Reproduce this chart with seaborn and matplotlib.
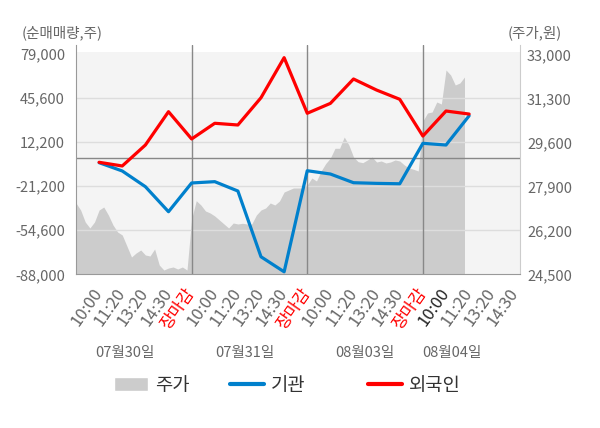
import matplotlib
matplotlib.use('Agg')
import matplotlib.pyplot as plt
import seaborn as sns
import pandas as pd
from matplotlib.patches import Patch
from matplotlib.lines import Line2D

sns.set_style('white')
plt.rcParams['font.family'] = ['Noto Sans CJK KR', 'DejaVu Sans']

# data
days = ['07월30일', '07월31일', '08월03일', '08월04일']
tick_labels = ['10:00', '11:20', '13:20', '14:30', '장마감'] * 3 + ['10:00', '11:20', '13:20', '14:30']
inst = [-3300, -9600, -21500, -40500, -18700, -17700, -24800, -74700, -86100,
        -9400, -11900, -18500, -19000, -19300, 11400, 10100, 32300]
foreign = [-3000, -5800, 10100, 35400, 14700, 26600, 25300, 46000, 76400,
           34200, 41700, 60200, 51800, 44800, 16900, 35900, 33600]
# intraday price, sampled evenly through each session
price_d1 = [27255, 26985, 26521, 26289, 26521, 26985, 27100, 26791, 26405, 26134,
            26019, 25594, 25168, 25323, 25439, 25246, 25207, 25478, 24859, 24666,
            24743, 24782, 24705, 24782, 24666]
price_d2 = [26637, 27344, 27178, 26946, 26869, 26753, 26598, 26444, 26289, 26482,
            26444, 26471, 26444, 26444, 26791, 26985, 27062, 27255, 27178, 27332,
            27680, 27757, 27835, 27835, 27835]
price_d3 = [27951, 28221, 28105, 28492, 28781, 28994, 29369, 29369, 29805, 29496,
            29032, 28851, 28812, 28917, 29032, 28839, 28878, 28801, 28839, 28917,
            28878, 28723, 28607, 28557, 28492]
price_d4 = [30424, 30733, 30771, 31158, 31080, 32394, 32201, 31815, 31892, 32124]
left_ticks = [-88000, -54600, -21200, 12200, 45600, 79000]
right_ticks = [24500, 26200, 27900, 29600, 31300, 33000]

slots = 5  # tick slots per trading day
step = 0.2
date_x = [2.12, 7.31, 12.5, 16.26]

fig = plt.figure(figsize=(6, 4.28), dpi=100)
ax = fig.add_axes([76 / 600, 1 - 274.3 / 428, 444 / 600, 229.3 / 428])
ax2 = ax.twinx()
ax.set_zorder(ax2.get_zorder() + 1)
ax.patch.set_visible(False)

# price area on the right axis
px, pv = [], []
for d, vals in enumerate([price_d1, price_d2, price_d3, price_d4]):
    for i, v in enumerate(vals):
        px.append(d * slots + i * step)
        pv.append(v)
ax2.axhspan(24500, 33090, color='#f4f4f4', zorder=0, lw=0)
ax2.fill_between(px, 24500, pv, color='#cccccc', lw=0, zorder=1)
ax2.set_ylim(24500, 33360)
ax2.set_yticks(right_ticks)
ax2.set_yticklabels([f'{t:,}' for t in right_ticks], fontsize=10.5, color='#666666')
ax2.tick_params(axis='y', length=0, pad=5)
for s in ['top', 'left', 'bottom']:
    ax2.spines[s].set_visible(False)
ax2.spines['right'].set_color('#cccccc')

# net buying lines on the left axis
n = len(inst)
df = pd.DataFrame({
    'x': list(range(1, n + 1)) * 2,
    'v': inst + foreign,
    'who': ['기관'] * n + ['외국인'] * n,
})
for t in left_ticks[1:-1]:
    ax.axhline(t, color='#dddddd', lw=1, zorder=0.5)
ax.axhline(0, color='#888888', lw=1, zorder=0.6)
for d in range(1, len(days)):
    ax.axvline(d * slots, color='#888888', lw=1, zorder=0.6)
sns.lineplot(data=df, x='x', y='v', hue='who',
             palette={'기관': '#0080cc', '외국인': '#ff0000'},
             lw=2.3, ax=ax, legend=False, zorder=3)

ax.set_xlim(0, 19.2)
ax.set_ylim(-88000, 86000)
ax.set_xlabel('')
ax.set_ylabel('')
ax.set_yticks(left_ticks)
ax.set_yticklabels([f'{t:,}' for t in left_ticks], fontsize=10.5, color='#666666')
ax.tick_params(axis='y', length=0, pad=8)

ax.set_xticks(range(1, len(tick_labels) + 1))
ax.set_xticklabels(tick_labels, rotation=55, ha='right', va='center',
                   rotation_mode='anchor', fontsize=12, color='#666666')
for lab in ax.get_xticklabels():
    if lab.get_text() == '장마감':
        lab.set_color('#ff0000')
ax.get_xticklabels()[15].set_color('#222222')
ax.tick_params(axis='x', which='major', length=0, pad=11)
ax.set_xticks([0, 5, 10, 15, 19.2], minor=True)
ax.tick_params(axis='x', which='minor', length=4, color='#999999', direction='out')

ax.spines['top'].set_visible(False)
ax.spines['right'].set_visible(False)
ax.spines['left'].set_color('#999999')
ax.spines['bottom'].set_color('#999999')

for x, lab in zip(date_x, days):
    ax.text(x, -0.343, lab, transform=ax.get_xaxis_transform(), ha='center', va='center',
            fontsize=10.5, color='#666666')

fig.text(22 / 600, 1 - 33 / 428, '(순매매량,주)', ha='left', va='center', fontsize=10.5, color='#666666')
fig.text(562 / 600, 1 - 33 / 428, '(주가,원)', ha='right', va='center', fontsize=10.5, color='#666666')

# legend: one entry per box, placed like the reference
handles = [Patch(facecolor='#cccccc', label='주가'),
           Line2D([], [], color='#0080cc', lw=3, label='기관'),
           Line2D([], [], color='#ff0000', lw=3, label='외국인')]
legend_left = [114, 230, 368]
for h, lx in zip(handles, legend_left):
    leg = fig.legend(handles=[h], loc='center left', bbox_to_anchor=(lx / 600, 1 - 385 / 428),
                     frameon=False, fontsize=13.5, handlelength=1.8, handleheight=0.8,
                     handletextpad=0.4, borderpad=0, borderaxespad=0, labelcolor='#333333')

fig.savefig('out.png', dpi=100)
